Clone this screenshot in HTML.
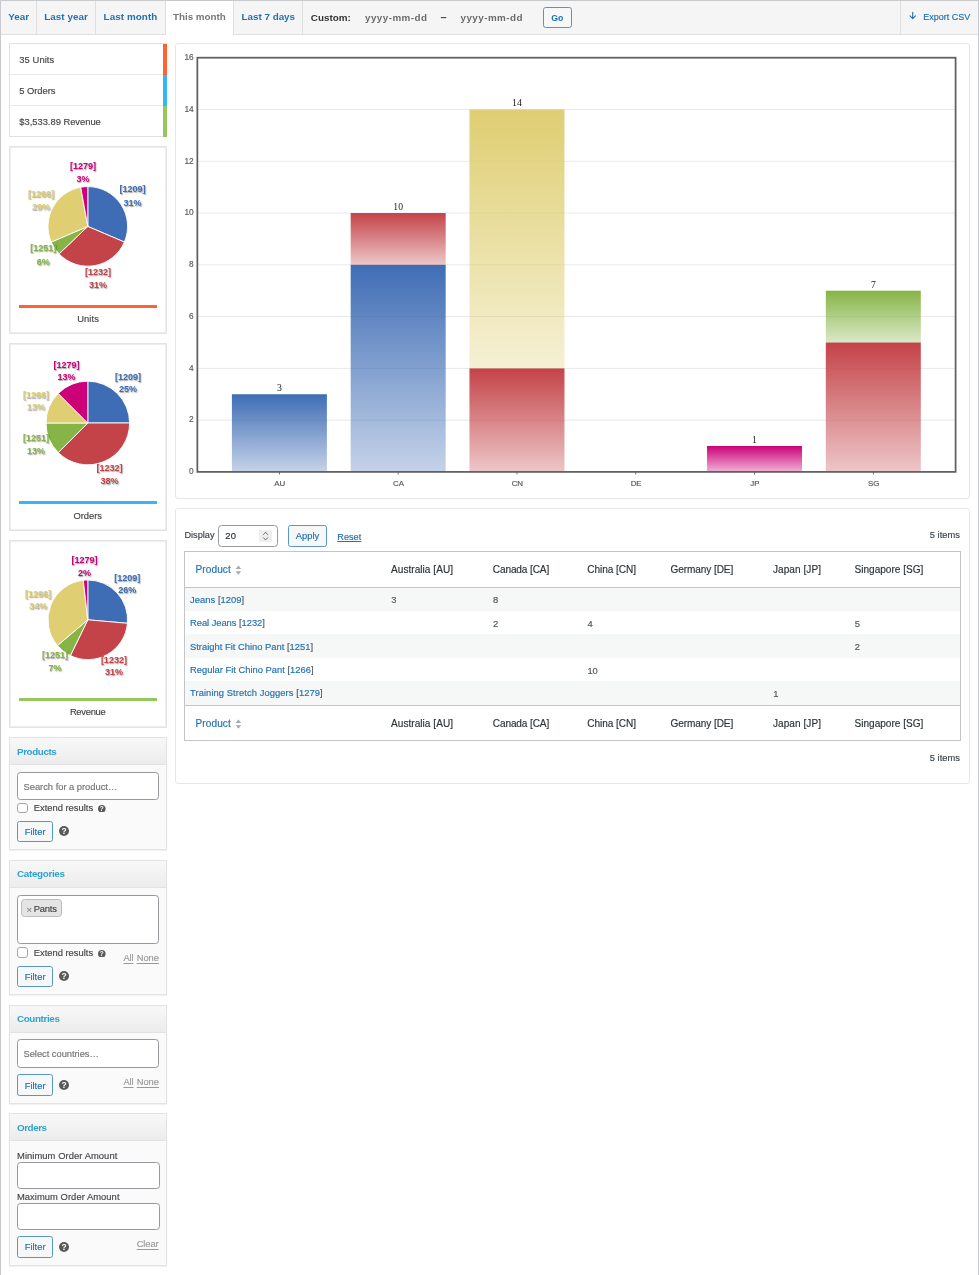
<!DOCTYPE html>
<html lang="en"><head><meta charset="utf-8"><title>Sales by country report</title>
<style>
html,body{margin:0;padding:0;background:#fff;}
body{width:979px;height:1275px;position:relative;overflow:hidden;font-family:"Liberation Sans",sans-serif;}
#wrap{position:absolute;left:0;top:0;width:979px;height:1275px;overflow:hidden;background:#fff;}
#wrap>div{position:absolute;box-sizing:border-box;}
#wrap>svg{position:absolute;left:0;top:0;}
.t{position:absolute;white-space:nowrap;-webkit-text-stroke:0.16px;}
.b{-webkit-text-stroke:0;}
.pl{text-shadow:0.8px 0.8px 1.3px rgba(0,0,0,.38);-webkit-text-stroke:0;}
.u{text-decoration:underline;text-underline-offset:2px;text-decoration-thickness:0.8px;}
</style></head>
<body>
<div id="wrap">
<div style="left:0px;top:0px;width:979px;height:1275px;border:1px solid #c8c9cc;border-bottom:0;background:#fff;"></div>
<div style="left:1px;top:1px;width:977px;height:33.5px;background:#f5f5f5;border-bottom:1px solid #dfdfdf;"></div>
<div style="left:36px;top:1px;width:1px;height:32.5px;background:#dfdfdf;"></div>
<div style="left:94.5px;top:1px;width:1px;height:32.5px;background:#dfdfdf;"></div>
<div style="left:164.5px;top:1px;width:1px;height:32.5px;background:#dfdfdf;"></div>
<div style="left:301.5px;top:1px;width:1px;height:32.5px;background:#dfdfdf;"></div>
<div style="left:165.5px;top:1px;width:68.5px;height:33.5px;background:#fff;border-right:1px solid #dfdfdf;"></div>
<div style="left:900px;top:1px;width:1px;height:32.5px;background:#dfdfdf;"></div>
<div style="left:543px;top:7.3px;width:28.5px;height:20.4px;border:1px solid #5a95c9;border-radius:2.6px;background:#f6f7f7;"></div>
<div style="left:9px;top:43px;width:158px;height:94px;border:1px solid #e2e2e2;border-right:0;background:#fff;"></div>
<div style="left:163px;top:44px;width:4px;height:31px;background:#ff6331;"></div>
<div style="left:10px;top:74px;width:153px;height:1px;background:#e8e8e8;"></div>
<div style="left:163px;top:75px;width:4px;height:31px;background:#33b6fa;"></div>
<div style="left:10px;top:105px;width:153px;height:1px;background:#e8e8e8;"></div>
<div style="left:163px;top:106px;width:4px;height:31px;background:#95c75c;"></div>
<div style="left:9px;top:146px;width:158px;height:188px;border:1px solid #e3e4e4;background:#fff;box-shadow:inset 0 0 0 1px #eceded;"></div>
<div style="left:19px;top:304.7px;width:138px;height:3px;background:#ff6331;"></div>
<div style="left:9px;top:343px;width:158px;height:188px;border:1px solid #e3e4e4;background:#fff;box-shadow:inset 0 0 0 1px #eceded;"></div>
<div style="left:19px;top:501.4px;width:138px;height:3px;background:#33b6fa;"></div>
<div style="left:9px;top:540px;width:158px;height:188px;border:1px solid #e3e4e4;background:#fff;box-shadow:inset 0 0 0 1px #eceded;"></div>
<div style="left:19px;top:698px;width:138px;height:3px;background:#95c75c;"></div>
<div style="left:9px;top:737px;width:158px;height:113px;border:1px solid #e2e3e3;background:#fafafa;box-shadow:0 1px 1px rgba(0,0,0,.05);"></div>
<div style="left:10px;top:738px;width:156px;height:27px;background:linear-gradient(#f8f8f8,#ececec);border-bottom:1px solid #e2e2e2;"></div>
<div style="left:17.2px;top:772.0px;width:141.5px;height:28.0px;border:1px solid #95989d;border-radius:3.5px;background:#fff;"></div>
<div style="left:17.2px;top:802.6px;width:10.8px;height:10.8px;border:1px solid #a3a6aa;border-radius:3px;background:#fff;"></div>
<div style="left:17px;top:821.0px;width:36px;height:21.100000000000023px;border:1px solid #5a95c9;border-radius:2.6px;background:#f6f7f7;"></div>
<div style="left:9px;top:860px;width:158px;height:135px;border:1px solid #e2e3e3;background:#fafafa;box-shadow:0 1px 1px rgba(0,0,0,.05);"></div>
<div style="left:10px;top:861px;width:156px;height:27px;background:linear-gradient(#f8f8f8,#ececec);border-bottom:1px solid #e2e2e2;"></div>
<div style="left:17.2px;top:895.1px;width:141.5px;height:49.10000000000002px;border:1px solid #95989d;border-radius:3.5px;background:#fff;"></div>
<div style="left:21.2px;top:899.4px;width:40.4px;height:17.4px;border:1px solid #bcbcbc;border-radius:3.5px;background:#e4e4e4;"></div>
<div style="left:17.2px;top:947px;width:10.8px;height:10.8px;border:1px solid #a3a6aa;border-radius:3px;background:#fff;"></div>
<div style="left:17px;top:966.0px;width:36px;height:21.0px;border:1px solid #5a95c9;border-radius:2.6px;background:#f6f7f7;"></div>
<div style="left:9px;top:1005px;width:158px;height:99px;border:1px solid #e2e3e3;background:#fafafa;box-shadow:0 1px 1px rgba(0,0,0,.05);"></div>
<div style="left:10px;top:1006px;width:156px;height:27px;background:linear-gradient(#f8f8f8,#ececec);border-bottom:1px solid #e2e2e2;"></div>
<div style="left:17.2px;top:1039.2px;width:141.5px;height:28.5px;border:1px solid #95989d;border-radius:3.5px;background:#fff;"></div>
<div style="left:17px;top:1074.3999999999999px;width:36px;height:21.500000000000227px;border:1px solid #5a95c9;border-radius:2.6px;background:#f6f7f7;"></div>
<div style="left:9px;top:1113px;width:158px;height:153px;border:1px solid #e2e3e3;background:#fafafa;box-shadow:0 1px 1px rgba(0,0,0,.05);"></div>
<div style="left:10px;top:1114px;width:156px;height:27px;background:linear-gradient(#f8f8f8,#ececec);border-bottom:1px solid #e2e2e2;"></div>
<div style="left:17.4px;top:1162.1000000000001px;width:142.4px;height:26.899999999999864px;border:1px solid #95989d;border-radius:3.5px;background:#fff;"></div>
<div style="left:17.4px;top:1203.0px;width:142.4px;height:26.600000000000136px;border:1px solid #95989d;border-radius:3.5px;background:#fff;"></div>
<div style="left:17px;top:1236.0px;width:36px;height:22.0px;border:1px solid #5a95c9;border-radius:2.6px;background:#f6f7f7;"></div>
<div style="left:175px;top:43px;width:795px;height:456px;border:1px solid #e6e7e7;border-radius:3px;background:#fff;"></div>
<div style="left:175px;top:508px;width:795px;height:276px;border:1px solid #e6e7e7;border-radius:3px;background:#fff;"></div>
<div style="left:218.2px;top:525px;width:59.6px;height:21.6px;border:1px solid #979a9e;border-radius:3.5px;background:#fff;"></div>
<div style="left:259.3px;top:530px;width:12.5px;height:12px;background:#eeeeef;border-radius:0.5px;"></div>
<div style="left:287.8px;top:525px;width:39px;height:21.6px;border:1px solid #5a95c9;border-radius:2.6px;background:#f6f7f7;"></div>
<div style="left:184.2px;top:551.4px;width:777px;height:189.8px;border:1px solid #c3c4c7;background:#fff;"></div>
<div style="left:185.2px;top:587px;width:775px;height:0.9px;background:#c3c4c7;"></div>
<div style="left:185.2px;top:704.6px;width:775px;height:0.9px;background:#c3c4c7;"></div>
<div style="left:185.2px;top:587.9px;width:775px;height:22.899999999999977px;background:#f6f7f7;"></div>
<div style="left:185.2px;top:634.4px;width:775px;height:23.399999999999977px;background:#f6f7f7;"></div>
<div style="left:185.2px;top:681.2px;width:775px;height:23.399999999999977px;background:#f6f7f7;"></div>
<svg width="979" height="40" viewBox="0 0 979 40"><path d="M912.7 12.2v6.2M910 15.9l2.7 2.8 2.7-2.8" fill="none" stroke="#2271b1" stroke-width="1.1" stroke-linecap="round" stroke-linejoin="round"/></svg>
<svg width="180" height="740" viewBox="0 0 180 740"><path d="M87.8 226.4L87.80 186.60A39.8 39.8 0 0 1 124.40 242.04Z" fill="#3f6db5" stroke="#fff" stroke-width="0.9" stroke-linejoin="round"/><path d="M87.8 226.4L124.40 242.04A39.8 39.8 0 0 1 59.03 253.90Z" fill="#c44348" stroke="#fff" stroke-width="0.9" stroke-linejoin="round"/><path d="M87.8 226.4L59.03 253.90A39.8 39.8 0 0 1 51.20 242.04Z" fill="#86b446" stroke="#fff" stroke-width="0.9" stroke-linejoin="round"/><path d="M87.8 226.4L51.20 242.04A39.8 39.8 0 0 1 80.69 187.24Z" fill="#dfce72" stroke="#fff" stroke-width="0.9" stroke-linejoin="round"/><path d="M87.8 226.4L80.69 187.24A39.8 39.8 0 0 1 87.80 186.60Z" fill="#cc0078" stroke="#fff" stroke-width="0.9" stroke-linejoin="round"/><path d="M87.8 423.0L87.80 381.20A41.8 41.8 0 0 1 129.60 423.00Z" fill="#3f6db5" stroke="#fff" stroke-width="0.9" stroke-linejoin="round"/><path d="M87.8 423.0L129.60 423.00A41.8 41.8 0 0 1 58.24 452.56Z" fill="#c44348" stroke="#fff" stroke-width="0.9" stroke-linejoin="round"/><path d="M87.8 423.0L58.24 452.56A41.8 41.8 0 0 1 46.00 423.00Z" fill="#86b446" stroke="#fff" stroke-width="0.9" stroke-linejoin="round"/><path d="M87.8 423.0L46.00 423.00A41.8 41.8 0 0 1 58.24 393.44Z" fill="#dfce72" stroke="#fff" stroke-width="0.9" stroke-linejoin="round"/><path d="M87.8 423.0L58.24 393.44A41.8 41.8 0 0 1 87.80 381.20Z" fill="#cc0078" stroke="#fff" stroke-width="0.9" stroke-linejoin="round"/><path d="M87.8 619.8L87.80 580.00A39.8 39.8 0 0 1 127.45 623.30Z" fill="#3f6db5" stroke="#fff" stroke-width="0.9" stroke-linejoin="round"/><path d="M87.8 619.8L127.45 623.30A39.8 39.8 0 0 1 70.40 655.60Z" fill="#c44348" stroke="#fff" stroke-width="0.9" stroke-linejoin="round"/><path d="M87.8 619.8L70.40 655.60A39.8 39.8 0 0 1 57.45 645.55Z" fill="#86b446" stroke="#fff" stroke-width="0.9" stroke-linejoin="round"/><path d="M87.8 619.8L57.45 645.55A39.8 39.8 0 0 1 83.31 580.25Z" fill="#dfce72" stroke="#fff" stroke-width="0.9" stroke-linejoin="round"/><path d="M87.8 619.8L83.31 580.25A39.8 39.8 0 0 1 87.80 580.00Z" fill="#cc0078" stroke="#fff" stroke-width="0.9" stroke-linejoin="round"/></svg>
<svg width="7.6" height="7.6" viewBox="0 0 20 20" style="position:absolute;left:98px;top:804.6px"><circle cx="10" cy="10" r="10" fill="#5a5a5a"/><text x="10" y="16" text-anchor="middle" font-family="Liberation Sans, sans-serif" font-weight="700" font-size="17" fill="#fff">?</text></svg>
<svg width="10" height="10" viewBox="0 0 20 20" style="position:absolute;left:59.4px;top:826.35px"><circle cx="10" cy="10" r="10" fill="#5a5a5a"/><text x="10" y="16" text-anchor="middle" font-family="Liberation Sans, sans-serif" font-weight="700" font-size="17" fill="#fff">?</text></svg>
<svg width="7.6" height="7.6" viewBox="0 0 20 20" style="position:absolute;left:98px;top:949.8px"><circle cx="10" cy="10" r="10" fill="#5a5a5a"/><text x="10" y="16" text-anchor="middle" font-family="Liberation Sans, sans-serif" font-weight="700" font-size="17" fill="#fff">?</text></svg>
<svg width="10" height="10" viewBox="0 0 20 20" style="position:absolute;left:59.4px;top:971.3px"><circle cx="10" cy="10" r="10" fill="#5a5a5a"/><text x="10" y="16" text-anchor="middle" font-family="Liberation Sans, sans-serif" font-weight="700" font-size="17" fill="#fff">?</text></svg>
<svg width="10" height="10" viewBox="0 0 20 20" style="position:absolute;left:59.4px;top:1079.95px"><circle cx="10" cy="10" r="10" fill="#5a5a5a"/><text x="10" y="16" text-anchor="middle" font-family="Liberation Sans, sans-serif" font-weight="700" font-size="17" fill="#fff">?</text></svg>
<svg width="10" height="10" viewBox="0 0 20 20" style="position:absolute;left:59.4px;top:1241.8px"><circle cx="10" cy="10" r="10" fill="#5a5a5a"/><text x="10" y="16" text-anchor="middle" font-family="Liberation Sans, sans-serif" font-weight="700" font-size="17" fill="#fff">?</text></svg>
<svg width="979" height="500" viewBox="0 0 979 500"><defs><linearGradient id="gb" x1="0" y1="0" x2="0" y2="1"><stop offset="0" stop-color="#3f6db5" stop-opacity="1"/><stop offset="1" stop-color="#3f6db5" stop-opacity="0.3"/></linearGradient><linearGradient id="gr" x1="0" y1="0" x2="0" y2="1"><stop offset="0" stop-color="#c44348" stop-opacity="1"/><stop offset="1" stop-color="#c44348" stop-opacity="0.3"/></linearGradient><linearGradient id="gg" x1="0" y1="0" x2="0" y2="1"><stop offset="0" stop-color="#86b446" stop-opacity="1"/><stop offset="1" stop-color="#86b446" stop-opacity="0.3"/></linearGradient><linearGradient id="gy" x1="0" y1="0" x2="0" y2="1"><stop offset="0" stop-color="#dfce72" stop-opacity="1"/><stop offset="1" stop-color="#dfce72" stop-opacity="0.3"/></linearGradient><linearGradient id="gm" x1="0" y1="0" x2="0" y2="1"><stop offset="0" stop-color="#cc0078" stop-opacity="1"/><stop offset="1" stop-color="#cc0078" stop-opacity="0.3"/></linearGradient></defs><rect x="197.35" y="419.68" width="758.25" height="0.9" fill="#e4e6e8"/><rect x="197.35" y="367.90" width="758.25" height="0.9" fill="#e4e6e8"/><rect x="197.35" y="316.12" width="758.25" height="0.9" fill="#e4e6e8"/><rect x="197.35" y="264.35" width="758.25" height="0.9" fill="#e4e6e8"/><rect x="197.35" y="212.57" width="758.25" height="0.9" fill="#e4e6e8"/><rect x="197.35" y="160.80" width="758.25" height="0.9" fill="#e4e6e8"/><rect x="197.35" y="109.02" width="758.25" height="0.9" fill="#e4e6e8"/><rect x="231.90" y="394.24" width="95.0" height="77.66" fill="url(#gb)"/><rect x="279.00" y="471.9" width="0.8" height="2.6" fill="#555"/><rect x="350.68" y="264.80" width="95.0" height="207.10" fill="url(#gb)"/><rect x="350.68" y="213.02" width="95.0" height="51.77" fill="url(#gr)"/><rect x="397.78" y="471.9" width="0.8" height="2.6" fill="#555"/><rect x="469.46" y="368.35" width="95.0" height="103.55" fill="url(#gr)"/><rect x="469.46" y="109.47" width="95.0" height="258.88" fill="url(#gy)"/><rect x="516.56" y="471.9" width="0.8" height="2.6" fill="#555"/><rect x="635.34" y="471.9" width="0.8" height="2.6" fill="#555"/><rect x="707.02" y="446.01" width="95.0" height="25.89" fill="url(#gm)"/><rect x="754.12" y="471.9" width="0.8" height="2.6" fill="#555"/><rect x="825.80" y="342.46" width="95.0" height="129.44" fill="url(#gr)"/><rect x="825.80" y="290.69" width="95.0" height="51.77" fill="url(#gg)"/><rect x="872.90" y="471.9" width="0.8" height="2.6" fill="#555"/><rect x="197.35" y="57.7" width="758.25" height="414.20" fill="none" stroke="#5d6063" stroke-width="1.75"/></svg>
<svg width="979" height="560" viewBox="0 0 979 560"><path d="M263.5 534.5l2.05-2.3 2.05 2.3M263.5 537.7l2.05 2.3 2.05-2.3" fill="none" stroke="#555" stroke-width="0.8" stroke-linecap="round" stroke-linejoin="round"/></svg>
<svg width="979" height="760" viewBox="0 0 979 760"><path d="M235.6 569.0l2.8 -3.4 2.8 3.4zM235.6 571.3l2.8 3.4 2.8 -3.4z" fill="#a7aaad"/><path d="M235.6 723.0l2.8 -3.4 2.8 3.4zM235.6 725.3l2.8 3.4 2.8 -3.4z" fill="#a7aaad"/></svg>
<span class="t b" id="t0" style="left:8.2px;top:10.32px;font:700 9.83px/13.76px 'Liberation Sans', sans-serif;color:#2271b1;">Year</span>
<span class="t b" id="t1" style="left:44.3px;top:10.32px;font:700 9.83px/13.76px 'Liberation Sans', sans-serif;color:#2271b1;letter-spacing:0.040px;">Last year</span>
<span class="t b" id="t2" style="left:103.6px;top:10.32px;font:700 9.83px/13.76px 'Liberation Sans', sans-serif;color:#2271b1;letter-spacing:0.080px;">Last month</span>
<span class="t b" id="t3" style="left:173px;top:10.32px;font:700 9.83px/13.76px 'Liberation Sans', sans-serif;color:#777;letter-spacing:-0.020px;">This month</span>
<span class="t b" id="t4" style="left:241.5px;top:10.32px;font:700 9.83px/13.76px 'Liberation Sans', sans-serif;color:#2271b1;">Last 7 days</span>
<span class="t b" id="t5" style="left:310.8px;top:10.72px;font:700 9.83px/13.76px 'Liberation Sans', sans-serif;color:#333;letter-spacing:0.022px;">Custom:</span>
<span class="t b" id="t6" style="left:365px;top:10.72px;font:700 9.83px/13.76px 'Liberation Sans', sans-serif;color:#6b6b6b;letter-spacing:0.454px;">yyyy-mm-dd</span>
<span class="t b" id="t7" style="left:440.5px;top:9.90px;font:700 11px/15.4px 'Liberation Sans', sans-serif;color:#444;">–</span>
<span class="t b" id="t8" style="left:460.5px;top:10.72px;font:700 9.83px/13.76px 'Liberation Sans', sans-serif;color:#6b6b6b;letter-spacing:0.454px;">yyyy-mm-dd</span>
<span class="t b" id="t9" style="left:551.2px;top:12.16px;font:700 8.78px/12.29px 'Liberation Sans', sans-serif;color:#2271b1;">Go</span>
<span class="t" id="t10" style="left:923.3px;top:11.10px;font:400 9.0px/12.6px 'Liberation Sans', sans-serif;color:#2271b1;">Export CSV</span>
<span class="t" id="t11" style="left:19.3px;top:53.22px;font:400 9.4px/13.16px 'Liberation Sans', sans-serif;color:#464646;letter-spacing:0.075px;">35 Units</span>
<span class="t" id="t12" style="left:19.3px;top:84.12px;font:400 9.4px/13.16px 'Liberation Sans', sans-serif;color:#464646;letter-spacing:-0.051px;">5 Orders</span>
<span class="t" id="t13" style="left:19.3px;top:115.02px;font:400 9.4px/13.16px 'Liberation Sans', sans-serif;color:#464646;letter-spacing:-0.020px;">$3,533.89 Revenue</span>
<span class="t" id="t14" style="left:77.2px;top:311.92px;font:400 9.4px/13.16px 'Liberation Sans', sans-serif;color:#464646;letter-spacing:0.073px;">Units</span>
<span class="t pl b" id="t15" style="left:32.599999999999994px;width:200px;text-align:center;top:183.30px;font:700 9px/12.6px 'Liberation Sans', sans-serif;color:#3f6db5;">[1209]</span>
<span class="t pl b" id="t16" style="left:32.599999999999994px;width:200px;text-align:center;top:196.60px;font:700 9px/12.6px 'Liberation Sans', sans-serif;color:#3f6db5;">31%</span>
<span class="t pl b" id="t17" style="left:-2px;width:200px;text-align:center;top:265.50px;font:700 9px/12.6px 'Liberation Sans', sans-serif;color:#c44348;">[1232]</span>
<span class="t pl b" id="t18" style="left:-2px;width:200px;text-align:center;top:278.70px;font:700 9px/12.6px 'Liberation Sans', sans-serif;color:#c44348;">31%</span>
<span class="t pl b" id="t19" style="left:-56.8px;width:200px;text-align:center;top:242.40px;font:700 9px/12.6px 'Liberation Sans', sans-serif;color:#86b446;">[1251]</span>
<span class="t pl b" id="t20" style="left:-56.8px;width:200px;text-align:center;top:255.70px;font:700 9px/12.6px 'Liberation Sans', sans-serif;color:#86b446;">6%</span>
<span class="t pl b" id="t21" style="left:-58.9px;width:200px;text-align:center;top:187.70px;font:700 9px/12.6px 'Liberation Sans', sans-serif;color:#dfce72;">[1266]</span>
<span class="t pl b" id="t22" style="left:-58.9px;width:200px;text-align:center;top:200.70px;font:700 9px/12.6px 'Liberation Sans', sans-serif;color:#dfce72;">29%</span>
<span class="t pl b" id="t23" style="left:-17px;width:200px;text-align:center;top:159.80px;font:700 9px/12.6px 'Liberation Sans', sans-serif;color:#cc0078;">[1279]</span>
<span class="t pl b" id="t24" style="left:-17px;width:200px;text-align:center;top:172.50px;font:700 9px/12.6px 'Liberation Sans', sans-serif;color:#cc0078;">3%</span>
<span class="t" id="t25" style="left:73.5px;top:508.72px;font:400 9.4px/13.16px 'Liberation Sans', sans-serif;color:#464646;letter-spacing:-0.024px;">Orders</span>
<span class="t pl b" id="t26" style="left:28px;width:200px;text-align:center;top:370.70px;font:700 9px/12.6px 'Liberation Sans', sans-serif;color:#3f6db5;">[1209]</span>
<span class="t pl b" id="t27" style="left:28px;width:200px;text-align:center;top:382.90px;font:700 9px/12.6px 'Liberation Sans', sans-serif;color:#3f6db5;">25%</span>
<span class="t pl b" id="t28" style="left:9.599999999999994px;width:200px;text-align:center;top:462.40px;font:700 9px/12.6px 'Liberation Sans', sans-serif;color:#c44348;">[1232]</span>
<span class="t pl b" id="t29" style="left:9.599999999999994px;width:200px;text-align:center;top:474.70px;font:700 9px/12.6px 'Liberation Sans', sans-serif;color:#c44348;">38%</span>
<span class="t pl b" id="t30" style="left:-64px;width:200px;text-align:center;top:432.20px;font:700 9px/12.6px 'Liberation Sans', sans-serif;color:#86b446;">[1251]</span>
<span class="t pl b" id="t31" style="left:-64px;width:200px;text-align:center;top:444.80px;font:700 9px/12.6px 'Liberation Sans', sans-serif;color:#86b446;">13%</span>
<span class="t pl b" id="t32" style="left:-64px;width:200px;text-align:center;top:388.90px;font:700 9px/12.6px 'Liberation Sans', sans-serif;color:#dfce72;">[1266]</span>
<span class="t pl b" id="t33" style="left:-64px;width:200px;text-align:center;top:401.10px;font:700 9px/12.6px 'Liberation Sans', sans-serif;color:#dfce72;">13%</span>
<span class="t pl b" id="t34" style="left:-33.599999999999994px;width:200px;text-align:center;top:358.70px;font:700 9px/12.6px 'Liberation Sans', sans-serif;color:#cc0078;">[1279]</span>
<span class="t pl b" id="t35" style="left:-33.599999999999994px;width:200px;text-align:center;top:371.10px;font:700 9px/12.6px 'Liberation Sans', sans-serif;color:#cc0078;">13%</span>
<span class="t" id="t36" style="left:69.9px;top:705.42px;font:400 9.4px/13.16px 'Liberation Sans', sans-serif;color:#464646;letter-spacing:-0.287px;">Revenue</span>
<span class="t pl b" id="t37" style="left:27.299999999999997px;width:200px;text-align:center;top:571.60px;font:700 9px/12.6px 'Liberation Sans', sans-serif;color:#3f6db5;">[1209]</span>
<span class="t pl b" id="t38" style="left:27.299999999999997px;width:200px;text-align:center;top:584.10px;font:700 9px/12.6px 'Liberation Sans', sans-serif;color:#3f6db5;">26%</span>
<span class="t pl b" id="t39" style="left:13.900000000000006px;width:200px;text-align:center;top:653.70px;font:700 9px/12.6px 'Liberation Sans', sans-serif;color:#c44348;">[1232]</span>
<span class="t pl b" id="t40" style="left:13.900000000000006px;width:200px;text-align:center;top:666.00px;font:700 9px/12.6px 'Liberation Sans', sans-serif;color:#c44348;">31%</span>
<span class="t pl b" id="t41" style="left:-45px;width:200px;text-align:center;top:649.40px;font:700 9px/12.6px 'Liberation Sans', sans-serif;color:#86b446;">[1251]</span>
<span class="t pl b" id="t42" style="left:-45px;width:200px;text-align:center;top:662.10px;font:700 9px/12.6px 'Liberation Sans', sans-serif;color:#86b446;">7%</span>
<span class="t pl b" id="t43" style="left:-61.9px;width:200px;text-align:center;top:587.70px;font:700 9px/12.6px 'Liberation Sans', sans-serif;color:#dfce72;">[1266]</span>
<span class="t pl b" id="t44" style="left:-61.9px;width:200px;text-align:center;top:600.20px;font:700 9px/12.6px 'Liberation Sans', sans-serif;color:#dfce72;">34%</span>
<span class="t pl b" id="t45" style="left:-15.599999999999994px;width:200px;text-align:center;top:554.20px;font:700 9px/12.6px 'Liberation Sans', sans-serif;color:#cc0078;">[1279]</span>
<span class="t pl b" id="t46" style="left:-15.599999999999994px;width:200px;text-align:center;top:566.70px;font:700 9px/12.6px 'Liberation Sans', sans-serif;color:#cc0078;">2%</span>
<span class="t b" id="t47" style="left:17px;top:744.52px;font:700 9.83px/13.76px 'Liberation Sans', sans-serif;color:#2ea2cc;letter-spacing:-0.403px;">Products</span>
<span class="t" id="t48" style="left:23.5px;top:779.82px;font:400 9.4px/13.16px 'Liberation Sans', sans-serif;color:#757575;letter-spacing:-0.026px;">Search for a product…</span>
<span class="t" id="t49" style="left:33.7px;top:801.42px;font:400 9.4px/13.16px 'Liberation Sans', sans-serif;color:#464646;">Extend results</span>
<span class="t" id="t50" style="left:24.7px;top:824.97px;font:400 9.4px/13.16px 'Liberation Sans', sans-serif;color:#2271b1;">Filter</span>
<span class="t b" id="t51" style="left:17px;top:867.22px;font:700 9.83px/13.76px 'Liberation Sans', sans-serif;color:#2ea2cc;letter-spacing:-0.313px;">Categories</span>
<span class="t" id="t52" style="left:26.5px;top:902.75px;font:400 9.5px/13.3px 'Liberation Sans', sans-serif;color:#888;">×</span>
<span class="t" id="t53" style="left:33.7px;top:902.02px;font:400 9.4px/13.16px 'Liberation Sans', sans-serif;color:#464646;letter-spacing:-0.184px;">Pants</span>
<span class="t" id="t54" style="left:33.7px;top:945.92px;font:400 9.4px/13.16px 'Liberation Sans', sans-serif;color:#464646;">Extend results</span>
<span class="t u" id="t55" style="left:123.4px;top:951.97px;font:400 9.33px/13.06px 'Liberation Sans', sans-serif;color:#999;letter-spacing:-0.083px;">All</span>
<span class="t u" id="t56" style="left:136.7px;top:951.97px;font:400 9.33px/13.06px 'Liberation Sans', sans-serif;color:#999;">None</span>
<span class="t" id="t57" style="left:24.7px;top:969.92px;font:400 9.4px/13.16px 'Liberation Sans', sans-serif;color:#2271b1;">Filter</span>
<span class="t b" id="t58" style="left:17px;top:1012.22px;font:700 9.83px/13.76px 'Liberation Sans', sans-serif;color:#2ea2cc;letter-spacing:-0.373px;">Countries</span>
<span class="t" id="t59" style="left:23.5px;top:1047.42px;font:400 9.4px/13.16px 'Liberation Sans', sans-serif;color:#757575;letter-spacing:-0.047px;">Select countries…</span>
<span class="t" id="t60" style="left:24.7px;top:1078.57px;font:400 9.4px/13.16px 'Liberation Sans', sans-serif;color:#2271b1;">Filter</span>
<span class="t u" id="t61" style="left:123.4px;top:1075.87px;font:400 9.33px/13.06px 'Liberation Sans', sans-serif;color:#999;letter-spacing:-0.083px;">All</span>
<span class="t u" id="t62" style="left:136.7px;top:1075.87px;font:400 9.33px/13.06px 'Liberation Sans', sans-serif;color:#999;">None</span>
<span class="t b" id="t63" style="left:17px;top:1120.82px;font:700 9.83px/13.76px 'Liberation Sans', sans-serif;color:#2ea2cc;letter-spacing:-0.449px;">Orders</span>
<span class="t" id="t64" style="left:17px;top:1149.42px;font:400 9.4px/13.16px 'Liberation Sans', sans-serif;color:#464646;letter-spacing:0.068px;">Minimum Order Amount</span>
<span class="t" id="t65" style="left:17px;top:1189.72px;font:400 9.4px/13.16px 'Liberation Sans', sans-serif;color:#464646;letter-spacing:0.047px;">Maximum Order Amount</span>
<span class="t" id="t66" style="left:24.7px;top:1240.42px;font:400 9.4px/13.16px 'Liberation Sans', sans-serif;color:#2271b1;">Filter</span>
<span class="t u" id="t67" style="left:136.7px;top:1237.57px;font:400 9.33px/13.06px 'Liberation Sans', sans-serif;color:#999;letter-spacing:-0.072px;">Clear</span>
<span class="t b" id="t68" style="left:179.39999999999998px;width:200px;text-align:center;top:381.05px;font:400 9.7px/13.58px 'Liberation Serif', serif;color:#222;">3</span>
<span class="t b" id="t69" style="left:298.17999999999995px;width:200px;text-align:center;top:199.83px;font:400 9.7px/13.58px 'Liberation Serif', serif;color:#222;">10</span>
<span class="t b" id="t70" style="left:416.96000000000004px;width:200px;text-align:center;top:96.28px;font:400 9.7px/13.58px 'Liberation Serif', serif;color:#222;">14</span>
<span class="t b" id="t71" style="left:654.52px;width:200px;text-align:center;top:432.82px;font:400 9.7px/13.58px 'Liberation Serif', serif;color:#222;">1</span>
<span class="t b" id="t72" style="left:773.3px;width:200px;text-align:center;top:277.50px;font:400 9.7px/13.58px 'Liberation Serif', serif;color:#222;">7</span>
<span class="t" id="t73" style="left:-6.300000000000011px;width:200px;text-align:right;top:466.19px;font:400 8.3px/11.62px 'Liberation Sans', sans-serif;color:#5a5a5a;">0</span>
<span class="t" id="t74" style="left:-6.300000000000011px;width:200px;text-align:right;top:414.42px;font:400 8.3px/11.62px 'Liberation Sans', sans-serif;color:#5a5a5a;">2</span>
<span class="t" id="t75" style="left:-6.300000000000011px;width:200px;text-align:right;top:362.64px;font:400 8.3px/11.62px 'Liberation Sans', sans-serif;color:#5a5a5a;">4</span>
<span class="t" id="t76" style="left:-6.300000000000011px;width:200px;text-align:right;top:310.87px;font:400 8.3px/11.62px 'Liberation Sans', sans-serif;color:#5a5a5a;">6</span>
<span class="t" id="t77" style="left:-6.300000000000011px;width:200px;text-align:right;top:259.09px;font:400 8.3px/11.62px 'Liberation Sans', sans-serif;color:#5a5a5a;">8</span>
<span class="t" id="t78" style="left:-6.300000000000011px;width:200px;text-align:right;top:207.31px;font:400 8.3px/11.62px 'Liberation Sans', sans-serif;color:#5a5a5a;">10</span>
<span class="t" id="t79" style="left:-6.300000000000011px;width:200px;text-align:right;top:155.54px;font:400 8.3px/11.62px 'Liberation Sans', sans-serif;color:#5a5a5a;">12</span>
<span class="t" id="t80" style="left:-6.300000000000011px;width:200px;text-align:right;top:103.76px;font:400 8.3px/11.62px 'Liberation Sans', sans-serif;color:#5a5a5a;">14</span>
<span class="t" id="t81" style="left:-6.300000000000011px;width:200px;text-align:right;top:51.99px;font:400 8.3px/11.62px 'Liberation Sans', sans-serif;color:#5a5a5a;">16</span>
<span class="t" id="t82" style="left:179.79999999999995px;width:200px;text-align:center;top:477.87px;font:400 7.9px/11.06px 'Liberation Sans', sans-serif;color:#555;">AU</span>
<span class="t" id="t83" style="left:298.5799999999999px;width:200px;text-align:center;top:477.87px;font:400 7.9px/11.06px 'Liberation Sans', sans-serif;color:#555;">CA</span>
<span class="t" id="t84" style="left:417.36px;width:200px;text-align:center;top:477.87px;font:400 7.9px/11.06px 'Liberation Sans', sans-serif;color:#555;">CN</span>
<span class="t" id="t85" style="left:536.14px;width:200px;text-align:center;top:477.87px;font:400 7.9px/11.06px 'Liberation Sans', sans-serif;color:#555;">DE</span>
<span class="t" id="t86" style="left:654.92px;width:200px;text-align:center;top:477.87px;font:400 7.9px/11.06px 'Liberation Sans', sans-serif;color:#555;">JP</span>
<span class="t" id="t87" style="left:773.6999999999999px;width:200px;text-align:center;top:477.87px;font:400 7.9px/11.06px 'Liberation Sans', sans-serif;color:#555;">SG</span>
<span class="t" id="t88" style="left:184.5px;top:528.58px;font:400 9.17px/12.84px 'Liberation Sans', sans-serif;color:#3c434a;letter-spacing:-0.011px;">Display</span>
<span class="t" id="t89" style="left:225.2px;top:529.22px;font:400 9.4px/13.16px 'Liberation Sans', sans-serif;color:#2c3338;letter-spacing:0.337px;">20</span>
<span class="t" id="t90" style="left:295.8px;top:529.22px;font:400 9.4px/13.16px 'Liberation Sans', sans-serif;color:#2271b1;">Apply</span>
<span class="t u" id="t91" style="left:337.3px;top:530.88px;font:400 9.17px/12.84px 'Liberation Sans', sans-serif;color:#2271b1;letter-spacing:0.013px;text-underline-offset:1.4px;">Reset</span>
<span class="t" id="t92" style="left:929.8px;top:528.87px;font:400 9.33px/13.06px 'Liberation Sans', sans-serif;color:#3c434a;letter-spacing:0.024px;">5 items</span>
<span class="t" id="t93" style="left:929.8px;top:752.47px;font:400 9.33px/13.06px 'Liberation Sans', sans-serif;color:#3c434a;letter-spacing:0.024px;">5 items</span>
<span class="t" id="t94" style="left:195.5px;top:562.85px;font:400 10.07px/14.1px 'Liberation Sans', sans-serif;color:#2271b1;letter-spacing:0.103px;">Product</span>
<span class="t" id="t95" style="left:391px;top:562.85px;font:400 10.07px/14.1px 'Liberation Sans', sans-serif;color:#2c3338;letter-spacing:0.037px;">Australia [AU]</span>
<span class="t" id="t96" style="left:492.8px;top:562.85px;font:400 10.07px/14.1px 'Liberation Sans', sans-serif;color:#2c3338;letter-spacing:-0.121px;">Canada [CA]</span>
<span class="t" id="t97" style="left:587.2px;top:562.85px;font:400 10.07px/14.1px 'Liberation Sans', sans-serif;color:#2c3338;letter-spacing:-0.045px;">China [CN]</span>
<span class="t" id="t98" style="left:670.4px;top:562.85px;font:400 10.07px/14.1px 'Liberation Sans', sans-serif;color:#2c3338;letter-spacing:-0.077px;">Germany [DE]</span>
<span class="t" id="t99" style="left:773px;top:562.85px;font:400 10.07px/14.1px 'Liberation Sans', sans-serif;color:#2c3338;letter-spacing:0.050px;">Japan [JP]</span>
<span class="t" id="t100" style="left:854.5px;top:562.85px;font:400 10.07px/14.1px 'Liberation Sans', sans-serif;color:#2c3338;">Singapore [SG]</span>
<span class="t" id="t101" style="left:195.5px;top:716.85px;font:400 10.07px/14.1px 'Liberation Sans', sans-serif;color:#2271b1;letter-spacing:0.103px;">Product</span>
<span class="t" id="t102" style="left:391px;top:716.85px;font:400 10.07px/14.1px 'Liberation Sans', sans-serif;color:#2c3338;letter-spacing:0.037px;">Australia [AU]</span>
<span class="t" id="t103" style="left:492.8px;top:716.85px;font:400 10.07px/14.1px 'Liberation Sans', sans-serif;color:#2c3338;letter-spacing:-0.121px;">Canada [CA]</span>
<span class="t" id="t104" style="left:587.2px;top:716.85px;font:400 10.07px/14.1px 'Liberation Sans', sans-serif;color:#2c3338;letter-spacing:-0.045px;">China [CN]</span>
<span class="t" id="t105" style="left:670.4px;top:716.85px;font:400 10.07px/14.1px 'Liberation Sans', sans-serif;color:#2c3338;letter-spacing:-0.077px;">Germany [DE]</span>
<span class="t" id="t106" style="left:773px;top:716.85px;font:400 10.07px/14.1px 'Liberation Sans', sans-serif;color:#2c3338;letter-spacing:0.050px;">Japan [JP]</span>
<span class="t" id="t107" style="left:854.5px;top:716.85px;font:400 10.07px/14.1px 'Liberation Sans', sans-serif;color:#2c3338;">Singapore [SG]</span>
<span class="t" id="t108" style="left:190px;top:592.72px;font:400 9.4px/13.16px 'Liberation Sans', sans-serif;color:#50575e;letter-spacing:0.042px;"><a style="color:#2271b1">Jeans</a> [<a style="color:#2271b1">1209</a>]</span>
<span class="t" id="t109" style="left:391.2px;top:593.02px;font:400 9.4px/13.16px 'Liberation Sans', sans-serif;color:#50575e;">3</span>
<span class="t" id="t110" style="left:493.0px;top:593.02px;font:400 9.4px/13.16px 'Liberation Sans', sans-serif;color:#50575e;">8</span>
<span class="t" id="t111" style="left:190px;top:616.42px;font:400 9.4px/13.16px 'Liberation Sans', sans-serif;color:#50575e;letter-spacing:-0.049px;"><a style="color:#2271b1">Real Jeans</a> [<a style="color:#2271b1">1232</a>]</span>
<span class="t" id="t112" style="left:493.0px;top:616.72px;font:400 9.4px/13.16px 'Liberation Sans', sans-serif;color:#50575e;">2</span>
<span class="t" id="t113" style="left:587.4000000000001px;top:616.72px;font:400 9.4px/13.16px 'Liberation Sans', sans-serif;color:#50575e;">4</span>
<span class="t" id="t114" style="left:854.7px;top:616.72px;font:400 9.4px/13.16px 'Liberation Sans', sans-serif;color:#50575e;">5</span>
<span class="t" id="t115" style="left:190px;top:639.72px;font:400 9.4px/13.16px 'Liberation Sans', sans-serif;color:#50575e;"><a style="color:#2271b1">Straight Fit Chino Pant</a> [<a style="color:#2271b1">1251</a>]</span>
<span class="t" id="t116" style="left:854.7px;top:640.02px;font:400 9.4px/13.16px 'Liberation Sans', sans-serif;color:#50575e;">2</span>
<span class="t" id="t117" style="left:190px;top:663.22px;font:400 9.4px/13.16px 'Liberation Sans', sans-serif;color:#50575e;"><a style="color:#2271b1">Regular Fit Chino Pant</a> [<a style="color:#2271b1">1266</a>]</span>
<span class="t" id="t118" style="left:587.4000000000001px;top:663.52px;font:400 9.4px/13.16px 'Liberation Sans', sans-serif;color:#50575e;">10</span>
<span class="t" id="t119" style="left:190px;top:686.42px;font:400 9.4px/13.16px 'Liberation Sans', sans-serif;color:#50575e;letter-spacing:0.074px;"><a style="color:#2271b1">Training Stretch Joggers</a> [<a style="color:#2271b1">1279</a>]</span>
<span class="t" id="t120" style="left:773.2px;top:686.72px;font:400 9.4px/13.16px 'Liberation Sans', sans-serif;color:#50575e;">1</span>
</div>
</body></html>
